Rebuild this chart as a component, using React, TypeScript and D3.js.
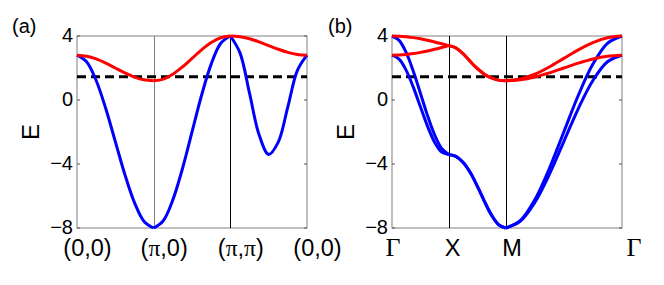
import React from 'react';
import * as d3 from 'd3';

// in-segment path parameter (0 = segment start, 1 = segment end)
const sGrid = [0, 0.125, 0.25, 0.375, 0.5, 0.625, 0.75, 0.875, 1];

const yTicks = [4, 0, -4, -8];
const muLevel = 1.45;

// panel (a): (0,0) -> (π,0) -> (π,π) -> (0,0)
const segLenA = [1, 1, 1];
const labelsA = ['(0,0)', '(π,0)', '(π,π)', '(0,0)'];
const redA = [
  [2.8, 2.739, 2.566, 2.306, 2.0, 1.694, 1.434, 1.261, 1.2],
  [1.2, 1.307, 1.61, 2.064, 2.6, 3.136, 3.59, 3.893, 4.0],
  [4.0, 3.954, 3.824, 3.63, 3.4, 3.17, 2.976, 2.846, 2.8],
];
const blueA = [
  [2.8, 2.389, 1.218, -0.533, -2.6, -4.667, -6.418, -7.589, -8],
  [-8, -7.543, -6.243, -4.296, -2, 0.296, 2.243, 3.543, 4.0],
  [4.0, 2.958, 0.424, -2.174, -3.4, -2.634, -0.424, 1.85, 2.8],
];

// panel (b): Γ -> X -> M -> Γ (folded zone)
const segLenB = [1, 1, 2.05];
const labelsB = ['Γ', 'X', 'M', 'Γ'];
const redB1 = [
  [2.8, 2.812, 2.846, 2.901, 2.976, 3.067, 3.17, 3.283, 3.4],
  [3.4, 3.262, 2.896, 2.423, 1.97, 1.615, 1.377, 1.243, 1.2],
  [1.2, 1.261, 1.434, 1.694, 2.0, 2.306, 2.566, 2.739, 2.8],
];
const redB2 = [
  [4.0, 3.988, 3.954, 3.899, 3.824, 3.733, 3.63, 3.517, 3.4],
  [3.4, 3.262, 2.896, 2.423, 1.97, 1.615, 1.377, 1.243, 1.2],
  [1.2, 1.307, 1.61, 2.064, 2.6, 3.136, 3.59, 3.893, 4.0],
];
const blueB1 = [
  [2.8, 2.553, 1.85, 0.802, -0.424, -1.634, -2.634, -3.258, -3.4],
  [-3.4, -3.52, -3.892, -4.521, -5.37, -6.317, -7.181, -7.785, -8],
  [-8, -7.589, -6.418, -4.667, -2.6, -0.533, 1.218, 2.389, 2.8],
];
const blueB2 = [
  [4.0, 3.729, 2.958, 1.8, 0.424, -0.968, -2.174, -3.024, -3.4],
  [-3.4, -3.52, -3.892, -4.521, -5.37, -6.317, -7.181, -7.785, -8],
  [-8, -7.543, -6.243, -4.296, -2, 0.296, 2.243, 3.543, 4.0],
];

const TOP = 36;
const BOTTOM = 228;
const SANS = '"Liberation Sans", Arial, Helvetica, sans-serif';
const SERIF = '"Liberation Serif", "Times New Roman", serif';

const fmt = (v: number) => (v < 0 ? '\u2212' + Math.abs(v) : String(v));

interface PanelProps {
  left: number;
  right: number;
  segLen: number[];
  blue: number[][][];
  red: number[][][];
  labels: string[];
  labelRange: [number, number];
  tag: string;
  tagX: number;
  lineColors: string[];
}

const Panel: React.FC<PanelProps> = ({ left, right, segLen, blue, red, labels, labelRange, tag, tagX, lineColors }) => {
  const starts = [0, ...Array.from(d3.cumsum(segLen))];
  const total = starts[starts.length - 1];
  const x = d3.scaleLinear().domain([0, total]).range([left, right]);
  const xLab = d3.scaleLinear().domain([0, total]).range(labelRange);
  const y = d3.scaleLinear().domain([-8, 4]).range([BOTTOM, TOP]);

  const line = d3
    .line<[number, number]>()
    .x(d => x(d[0]))
    .y(d => y(d[1]))
    .curve(d3.curveCatmullRom.alpha(0.5));

  const segPath = (vals: number[], i: number) =>
    line(vals.map((v, j) => [starts[i] + sGrid[j] * segLen[i], v] as [number, number])) || '';

  return (
    <g>
      <text x={tagX} y={33} fontSize={20} fontFamily={SANS}>{tag}</text>

      {/* frame */}
      <rect x={left} y={TOP} width={right - left} height={BOTTOM - TOP} fill="none" stroke="#808080" strokeWidth={1} />
      {yTicks.map(t => (
        <g key={t}>
          <line x1={left} x2={left + 3} y1={y(t)} y2={y(t)} stroke="#555" />
          <line x1={right - 3} x2={right} y1={y(t)} y2={y(t)} stroke="#555" />
          <text x={left - 4} y={y(t)} dy="0.3em" textAnchor="end" fontSize={20} fontFamily={SANS}>{fmt(t)}</text>
        </g>
      ))}

      {/* high-symmetry points */}
      {starts.slice(1, -1).map((s, i) => (
        <line key={i} x1={Math.round(x(s)) + 0.5} x2={Math.round(x(s)) + 0.5} y1={TOP} y2={BOTTOM} stroke={lineColors[i]} strokeWidth={1} />
      ))}

      <text transform={`translate(${left - 47},${(TOP + BOTTOM) / 2}) rotate(-90)`} dy="0.36em" textAnchor="middle" fontSize={24} fontFamily={SANS}>E</text>

      {labels.map((l, i) => (
        <text
          key={i}
          x={xLab(starts[i])}
          y={255.5}
          textAnchor="middle"
          fontSize={l === 'Γ' ? 26 : 23.5}
          fontFamily={l === 'Γ' ? SERIF : SANS}
        >
          {l.split('π').map((p, k, arr) => (
            <React.Fragment key={k}>
              {p}
              {k < arr.length - 1 && <tspan fontFamily={SERIF}>π</tspan>}
            </React.Fragment>
          ))}
        </text>
      ))}

      {/* chemical potential */}
      <line x1={left} x2={right} y1={y(muLevel)} y2={y(muLevel)} stroke="#000" strokeWidth={3} strokeDasharray="9 5" />

      {blue.map((band, b) =>
        band.map((seg, i) => <path key={`b${b}-${i}`} d={segPath(seg, i)} fill="none" stroke="#0000ff" strokeWidth={3} />)
      )}
      {red.map((band, b) =>
        band.map((seg, i) => <path key={`r${b}-${i}`} d={segPath(seg, i)} fill="none" stroke="#ff0000" strokeWidth={3} />)
      )}
    </g>
  );
};

export default function App() {
  return (
    <svg width={664} height={285} style={{ position: 'absolute', left: 0, top: 0, background: '#fff' }}>
      <Panel
        left={77}
        right={307}
        segLen={segLenA}
        blue={[blueA]}
        red={[redA]}
        labels={labelsA}
        labelRange={[87.5, 317.5]}
        tag="(a)"
        tagX={12}
        lineColors={['#808080', '#000']}
      />
      <Panel
        left={392}
        right={622}
        segLen={segLenB}
        blue={[blueB1, blueB2]}
        red={[redB1, redB2]}
        labels={labelsB}
        labelRange={[393, 634]}
        tag="(b)"
        tagX={328}
        lineColors={['#000', '#000']}
      />
    </svg>
  );
}
